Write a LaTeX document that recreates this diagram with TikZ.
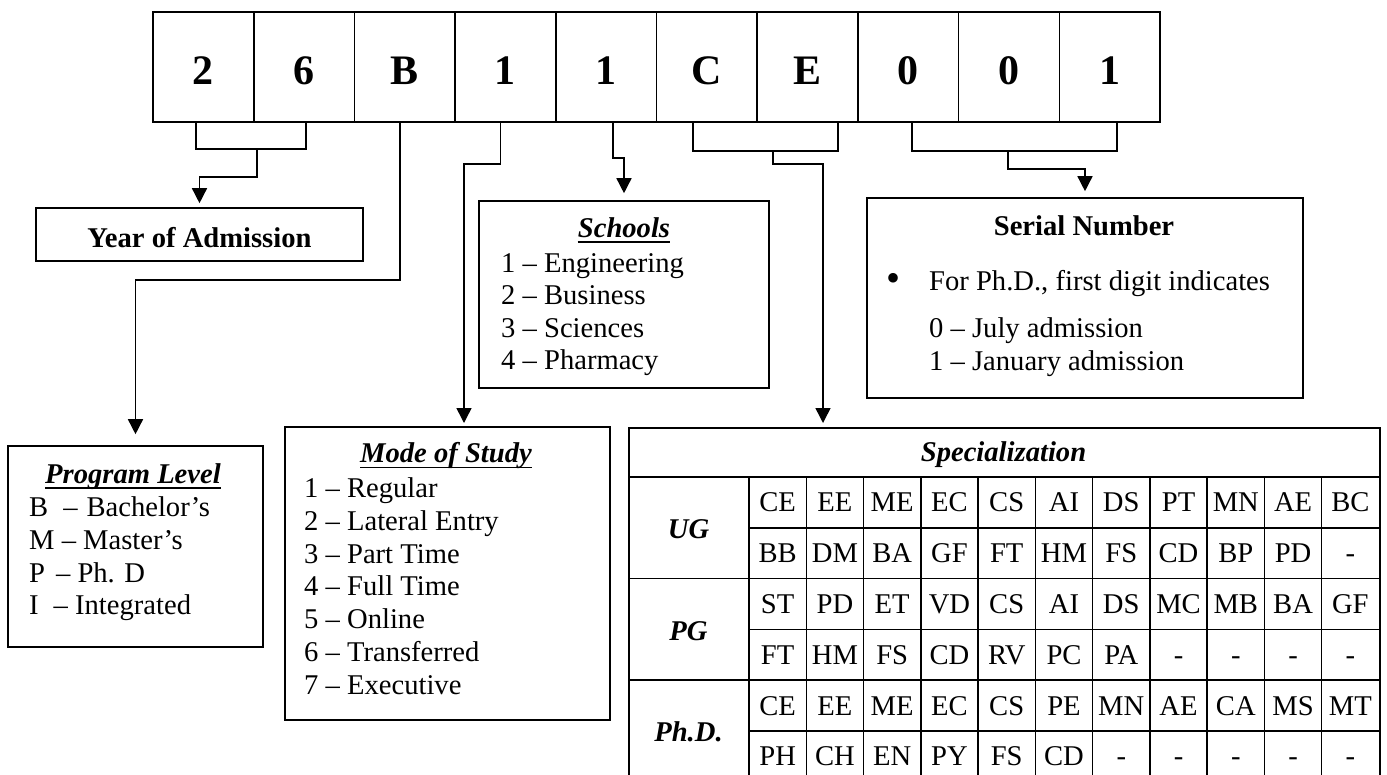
\documentclass[tikz,border=0pt]{standalone}
\usepackage{fontspec}
\setmainfont{Liberation Serif}
\usetikzlibrary{arrows.meta}
\begin{document}
\begin{tikzpicture}[x=1pt,y=-1pt,
  box/.style={draw,line width=1.6pt,inner sep=0pt},
  txt/.style={inner sep=0pt,anchor=base west,font=\fontsize{28.6}{33}\selectfont},
  ttl/.style={inner sep=0pt,anchor=base,font=\fontsize{28.6}{33}\selectfont\bfseries\itshape},
  btl/.style={inner sep=0pt,anchor=base,font=\fontsize{28.6}{33}\selectfont\bfseries},
  digit/.style={draw,line width=1.6pt,minimum width=100.7pt,minimum height=110pt,inner sep=0pt,
    font=\fontsize{42}{42}\selectfont\bfseries,text height=34pt,text depth=0pt},
  conn/.style={line width=1.5pt},
  arr/.style={line width=1.5pt,-{Triangle[width=15pt,length=15pt]}},
  uline/.style={line width=1.4pt},
  cell/.style={inner sep=0pt,anchor=base,font=\fontsize{28.6}{33}\selectfont},
]
\useasboundingbox (0,0) rectangle (1387,774);

% top code boxes
\foreach \t [count=\i] in {2,6,B,1,1,C,E,0,0,1}
  \node[digit] (d\i) at ({153+100.7*(\i-0.5)},67) {\t};

% boxes
\node[box,minimum width=327pt,minimum height=53pt] (year) at (199.5,234.5) {};
\node[btl] (yeart) at (199.5,247) {Year of Admission};

\node[box,minimum width=290pt,minimum height=187pt] (schools) at (624,294.5) {};
\node[ttl] (schoolst) at (624,237) {Schools};
\draw[uline] ([yshift=-5pt]schoolst.base west) -- ([yshift=-5pt]schoolst.base east);
\node[txt] (s1) at (501,272) {1 – Engineering};
\node[txt] (s2) at (501,304.5) {2 – Business};
\node[txt] (s3) at (501,337) {3 – Sciences};
\node[txt] (s4) at (501,369.5) {4 – Pharmacy};

\node[box,minimum width=436pt,minimum height=200pt] (serial) at (1085,298) {};
\node[btl] (serialt) at (1084,235) {Serial Number};
\node[inner sep=0pt,font=\fontsize{40}{40}\selectfont] (bul) at (893,282) {•};
\node[txt] (sr1) at (929,290) {For Ph.D., first digit indicates};
\node[txt] (sr2) at (929,337) {0 – July admission};
\node[txt] (sr3) at (929,370) {1 – January admission};

\node[box,minimum width=255pt,minimum height=201pt] (prog) at (135.5,546.5) {};
\node[ttl] (progt) at (133,483) {Program Level};
\draw[uline] ([yshift=-5pt]progt.base west) -- ([yshift=-5pt]progt.base east);
\node[txt] (p1) at (29,516) {B\hspace{15pt}–\hspace{9pt}Bachelor's};
\node[txt] (p2) at (29,549) {M – Master's};
\node[txt] (p3) at (29,582) {P\hspace{11pt}– Ph. D};
\node[txt] (p4) at (29,614.5) {I\hspace{15pt}– Integrated};

\node[box,minimum width=325pt,minimum height=293pt] (mode) at (447.5,573.5) {};
\node[ttl] (modet) at (446,462) {Mode of Study};
\draw[uline] ([yshift=-5.5pt]modet.base west) -- ([yshift=-5.5pt]modet.base east);
\foreach \t [count=\i] in {Regular,Lateral Entry,Part Time,Full Time,Online,Transferred,Executive}
  \node[txt] (m\i) at (304,{497.5+32.8*(\i-1)}) {\i{} – \t};

% specialization table
\node[box,minimum width=751pt,minimum height=355pt,anchor=north west] (spec) at (628,427) {};
\node[ttl] (spect) at (1003.5,461.5) {Specialization};
\draw[line width=1.5pt] (628,477) -- (1379,477);
\draw[line width=1.5pt] (749,477) -- (749,790);
\foreach \k in {1,...,10}
  \draw[line width=1.5pt] ({749+57.27*\k},477) -- ({749+57.27*\k},790);
\foreach \r in {1,3,5}
  \draw[line width=1.5pt] (749,{477+50.8*\r}) -- (1379,{477+50.8*\r});
\foreach \r in {2,4}
  \draw[line width=1.5pt] (628,{477+50.8*\r}) -- (1379,{477+50.8*\r});
\node[ttl] (ug) at (688.5,538) {UG};
\node[ttl] (pg) at (688.5,640) {PG};
\node[ttl] (phd) at (688.5,741) {Ph.D.};
\foreach \row [count=\r] in {
  {CE,EE,ME,EC,CS,AI,DS,PT,MN,AE,BC},
  {BB,DM,BA,GF,FT,HM,FS,CD,BP,PD,-},
  {ST,PD,ET,VD,CS,AI,DS,MC,MB,BA,GF},
  {FT,HM,FS,CD,RV,PC,PA,-,-,-,-},
  {CE,EE,ME,EC,CS,PE,MN,AE,CA,MS,MT},
  {PH,CH,EN,PY,FS,CD,-,-,-,-,-}}
  \foreach \c [count=\j] in \row
    \node[cell] (c\r-\j) at ({749+57.27*(\j-0.5)},{477+50.8*(\r-0.5)+9.5}) {\c};

% connectors
\coordinate (yl) at (196,149);
\coordinate (yr) at (306,149);
\coordinate (ym) at (257,149);
\draw[conn] (yl |- d1.south) -- (yl) -- (yr) -- (yr |- d2.south);
\draw[arr,shorten >=4pt] (ym) -- ++(0,28) -| (year.north);

\draw[arr,shorten >=11pt] ([xshift=-5pt]d3.south) -- ++(0,157) -| (prog.north);

\coordinate (mtop) at (464,427);
\draw[arr,shorten >=4pt] ([xshift=-5pt]d4.south) -- ++(0,41) -| (mtop);

\draw[arr,shorten >=7pt] ([xshift=7pt]d5.south) -- ++(0,35) -| (schools.north);

\coordinate (cl) at (693,151);
\coordinate (cr) at (838,151);
\coordinate (cm) at (773,151);
\draw[conn] (cl |- d6.south) -- (cl) -- (cr) -- (cr |- d7.south);
\coordinate (ttop) at (823,427);
\draw[arr,shorten >=4pt] (cm) -- ++(0,13) -| (ttop);

\coordinate (sl) at (912,151);
\coordinate (sr) at (1117,151);
\coordinate (sm) at (1008,151);
\draw[conn] (sl |- d8.south) -- (sl) -- (sr) -- (sr |- d10.south);
\draw[arr,shorten >=6pt] (sm) -- ++(0,18) -| (serial.north);
\end{tikzpicture}
\end{document}
